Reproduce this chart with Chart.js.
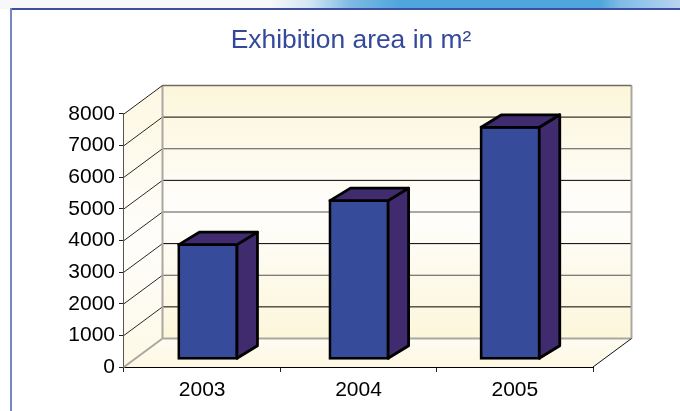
<!DOCTYPE html>
<html>
<head>
<meta charset="utf-8">
<style>
html,body{margin:0;padding:0;background:#fff;width:680px;height:411px;overflow:hidden}
#strip{position:absolute;left:0;top:0;width:680px;height:9px;background:linear-gradient(90deg,#f6f8fa 0,#f6f8fa 270px,#d3e5f3 310px,#7fbbe3 350px,#4fa6dc 400px,#4fa6dc 600px,#7fbbe6 620px,#b9d5f0 680px)}
#top{position:absolute;left:10px;top:8px;width:670px;height:2px;background:#3b51a0}
#left{position:absolute;left:10px;top:8px;width:2px;height:403px;background:#7387c4}
#wrap{position:absolute;left:0;top:0;width:680px;height:411px}
</style>
</head>
<body>
<div id="strip"></div><div id="top"></div><div id="left"></div>
<div id="wrap"><canvas id="c" width="680" height="411"></canvas></div>
<script src="https://cdn.jsdelivr.net/npm/chart.js@4"></script>
<script>
const categories = ["2003", "2004", "2005"];
const areas = [3670, 5060, 7380];
const titleText = "Exhibition area in m\u00B2";
const yTickStep = 1000;
const yMax = 8000;

const FONT = '"Liberation Sans", Arial, sans-serif';
const wallDepth = {x: 38.5, y: -28.5};
const barDepth = {x: 20.5, y: -12.5};

function creamGradient(ctx, top, bottom, edge, mid) {
  const g = ctx.createLinearGradient(0, top, 0, bottom);
  g.addColorStop(0, edge);
  g.addColorStop(0.45, mid);
  g.addColorStop(0.55, mid);
  g.addColorStop(1, edge);
  return g;
}
function poly(ctx, pts) {
  ctx.beginPath();
  pts.forEach((p, i) => i ? ctx.lineTo(p[0], p[1]) : ctx.moveTo(p[0], p[1]));
  ctx.closePath();
}
function seg(ctx, a, b, color, width) {
  ctx.strokeStyle = color;
  ctx.lineWidth = width;
  ctx.beginPath();
  ctx.moveTo(a[0], a[1]);
  ctx.lineTo(b[0], b[1]);
  ctx.stroke();
}

const titleShift = {
  id: 'titleShift',
  afterLayout(chart) {
    chart.titleBlock.left = 22;
    chart.titleBlock.right = 680;
  }
};

const walls = {
  id: 'walls',
  beforeDatasetsDraw(chart) {
    const ctx = chart.ctx;
    const yS = chart.scales.y, xS = chart.scales.x;
    const L = xS.left, R = xS.right;
    const y0 = yS.getPixelForValue(0), yT = yS.getPixelForValue(yMax);
    const dx = wallDepth.x, dy = wallDepth.y;
    ctx.save();
    // back wall
    ctx.fillStyle = creamGradient(ctx, yT + dy, y0 + dy, '#fcf6da', '#fefdf9');
    ctx.fillRect(L + dx, yT + dy, R - L, y0 - yT);
    // left wall
    poly(ctx, [[L, y0], [L, yT], [L + dx, yT + dy], [L + dx, y0 + dy]]);
    ctx.fillStyle = creamGradient(ctx, yT, y0, '#fdf9e6', '#fefdf9');
    ctx.fill();
    // floor
    poly(ctx, [[L, y0], [L + dx, y0 + dy], [R + dx, y0 + dy], [R, y0]]);
    const f = ctx.createLinearGradient(0, y0 + dy, 0, y0);
    f.addColorStop(0, '#fefcf3');
    f.addColorStop(1, '#fdf8e2');
    ctx.fillStyle = f;
    ctx.fill();
    // grid lines
    yS.ticks.forEach(t => {
      const y = yS.getPixelForValue(t.value);
      if (t.value > 0 && t.value < yMax) {
        const grey = (t.value / yTickStep) % 2 === 0;
        seg(ctx, [L + dx, y + dy], [R + dx, y + dy], grey ? '#55554f' : '#000', grey ? 1.2 : 1);
        seg(ctx, [L, y], [L + dx, y + dy], '#111', 0.9);
      }
    });
    // wall edges
    seg(ctx, [L + dx, yT + dy], [L + dx, y0 + dy], '#aaa79f', 2);
    seg(ctx, [R + dx, yT + dy], [R + dx, y0 + dy], '#aaa79f', 2);
    seg(ctx, [L + dx, yT + dy], [R + dx, yT + dy], '#6d6c66', 1.5);
    seg(ctx, [L + dx, y0 + dy], [R + dx, y0 + dy], '#aaa79f', 2);
    seg(ctx, [L, yT], [L + dx, yT + dy], '#222', 1);
    seg(ctx, [L, y0], [L + dx, y0 + dy], '#aaa79f', 2);
    seg(ctx, [R, y0], [R + dx, y0 + dy], '#111', 1);
    ctx.restore();
  },
  afterDatasetsDraw(chart) {
    const ctx = chart.ctx;
    const dx = barDepth.x, dy = barDepth.y;
    ctx.save();
    ctx.lineJoin = 'round';
    ctx.lineWidth = 2.8;
    ctx.strokeStyle = '#000';
    chart.getDatasetMeta(0).data.forEach(bar => {
      const l = bar.x - bar.width / 2 + 1.2, r = bar.x + bar.width / 2 - 1.2;
      const t = bar.y + 1.2, b = bar.base - 1.2;
      ctx.fillStyle = '#3f2b6e';
      poly(ctx, [[r, t], [r + dx, t + dy], [r + dx, b + dy], [r, b]]);
      ctx.fill(); ctx.stroke();
      poly(ctx, [[l, t], [l + dx, t + dy], [r + dx, t + dy], [r, t]]);
      ctx.fill(); ctx.stroke();
    });
    ctx.restore();
  }
};

new Chart(document.getElementById('c'), {
  type: 'bar',
  data: {
    labels: categories,
    datasets: [{
      label: 'Exhibition area',
      data: categories.map((c, i) => ({x: i, y: areas[i]})),
      xAxisID: 'xBar',
      yAxisID: 'yBar',
      backgroundColor: '#374b9b',
      borderColor: '#000',
      borderWidth: 2.8,
      borderSkipped: false,
      barThickness: 60.5
    }]
  },
  plugins: [titleShift, walls],
  options: {
    responsive: false,
    animation: false,
    devicePixelRatio: 1,
    layout: {padding: {left: 0, right: 87, top: 0, bottom: 0}},
    plugins: {
      legend: {display: false},
      tooltip: {enabled: false},
      title: {
        display: true,
        text: titleText,
        color: '#34499b',
        font: {family: FONT, size: 26.4, weight: 'normal', lineHeight: 1.2},
        padding: {top: 25, bottom: 57.3}
      }
    },
    scales: {
      x: {
        type: 'category',
        offset: true,
        grid: {display: true, drawOnChartArea: false, tickLength: 5, color: '#222', offset: true},
        border: {color: '#000', width: 1},
        ticks: {color: '#000', font: {family: FONT, size: 21}, padding: 6, maxRotation: 0},
        afterFit(s) { s.height = 44; }
      },
      y: {
        min: 0,
        max: yMax,
        grid: {display: true, drawOnChartArea: false, tickLength: 5, color: '#222'},
        border: {color: '#555', width: 1.2},
        ticks: {stepSize: yTickStep, color: '#000', font: {family: FONT, size: 21}, padding: 4, autoSkip: false, callback: v => String(v)},
        afterFit(s) { s.width = 124; }
      },
      xBar: {type: 'linear', display: false, offset: false, min: -0.5551, max: 2.5478},
      yBar: {type: 'linear', display: false, min: -236.7, max: 7763.3}
    }
  }
});
</script>
</body>
</html>
